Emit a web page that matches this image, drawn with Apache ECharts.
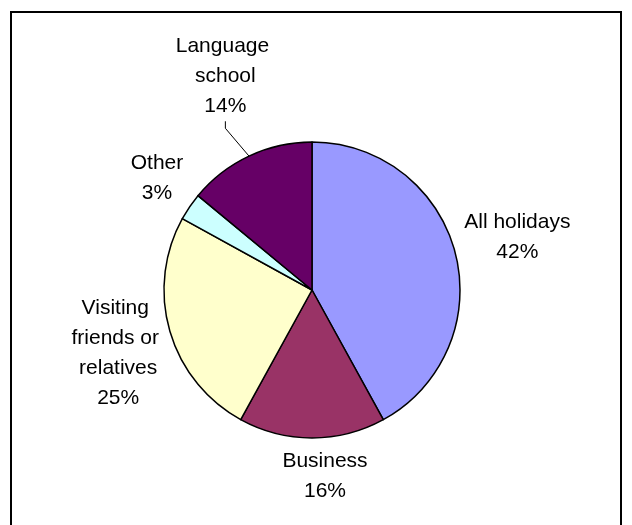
<!DOCTYPE html>
<html>
<head>
<meta charset="utf-8">
<title>Purpose of visit</title>
<script src="https://cdn.jsdelivr.net/npm/echarts@6/dist/echarts.min.js"></script>
<style>
  html, body { margin: 0; padding: 0; background: #ffffff; }
  #chart { width: 632px; height: 525px; }
</style>
</head>
<body>
<div id="chart"></div>
<script>
// Purpose of visit, share of visitors (%)
const categories = ['All holidays', 'Business', 'Visiting friends or relatives', 'Other', 'Language school'];
const shares = [42, 16, 25, 3, 14];
const sliceColors = ['#9999FF', '#993366', '#FFFFCC', '#CCFFFF', '#660066'];

// Label placement: distance of each label's centre from the pie centre,
// measured along the slice's mid-angle, plus a small [x, y] nudge.
const labelDistance = [212, 185, 206, 191, 234];
const labelNudge = [[0, 0], [13, 1], [4, 6], [3, -4], [13, -2]];
const showLeader = [false, false, false, false, true];

const FONT = '"Liberation Sans", Arial, sans-serif';
const chart = echarts.init(document.getElementById('chart'), null, { renderer: 'canvas' });

function labelPlacement(params) {
  const i = params.dataIndex;
  const lay = chart.getModel().getSeriesByIndex(0).getData().getItemLayout(i);
  const mid = (lay.startAngle + lay.endAngle) / 2;
  return {
    x: lay.cx + Math.cos(mid) * labelDistance[i] + labelNudge[i][0],
    y: lay.cy + Math.sin(mid) * labelDistance[i] + labelNudge[i][1],
    align: 'center',
    verticalAlign: 'middle'
  };
}

chart.setOption({
  animation: false,
  backgroundColor: '#ffffff',
  graphic: [{
    type: 'rect',
    silent: true,
    shape: { x: 11, y: 12, width: 610, height: 540 },
    style: { fill: 'none', stroke: '#000000', lineWidth: 2 }
  }],
  series: [{
    type: 'pie',
    center: [312, 290],
    radius: 148,
    startAngle: 90,
    clockwise: true,
    avoidLabelOverlap: false,
    itemStyle: { borderColor: '#000000', borderWidth: 1.5 },
    emphasis: { disabled: true },
    label: {
      show: true,
      position: 'outside',
      formatter: p => p.name + '\n' + Math.round(p.percent) + '%',
      fontFamily: FONT,
      fontSize: 21,
      lineHeight: 30,
      color: '#000000',
      width: 112,
      overflow: 'break',
      align: 'center'
    },
    labelLine: {
      length: 20,
      length2: 7,
      smooth: false,
      lineStyle: { color: '#000000', width: 1 }
    },
    labelLayout: labelPlacement,
    data: categories.map((name, i) => ({
      name: name,
      value: shares[i],
      itemStyle: { color: sliceColors[i] },
      labelLine: { show: showLeader[i] }
    }))
  }]
});
</script>
</body>
</html>
